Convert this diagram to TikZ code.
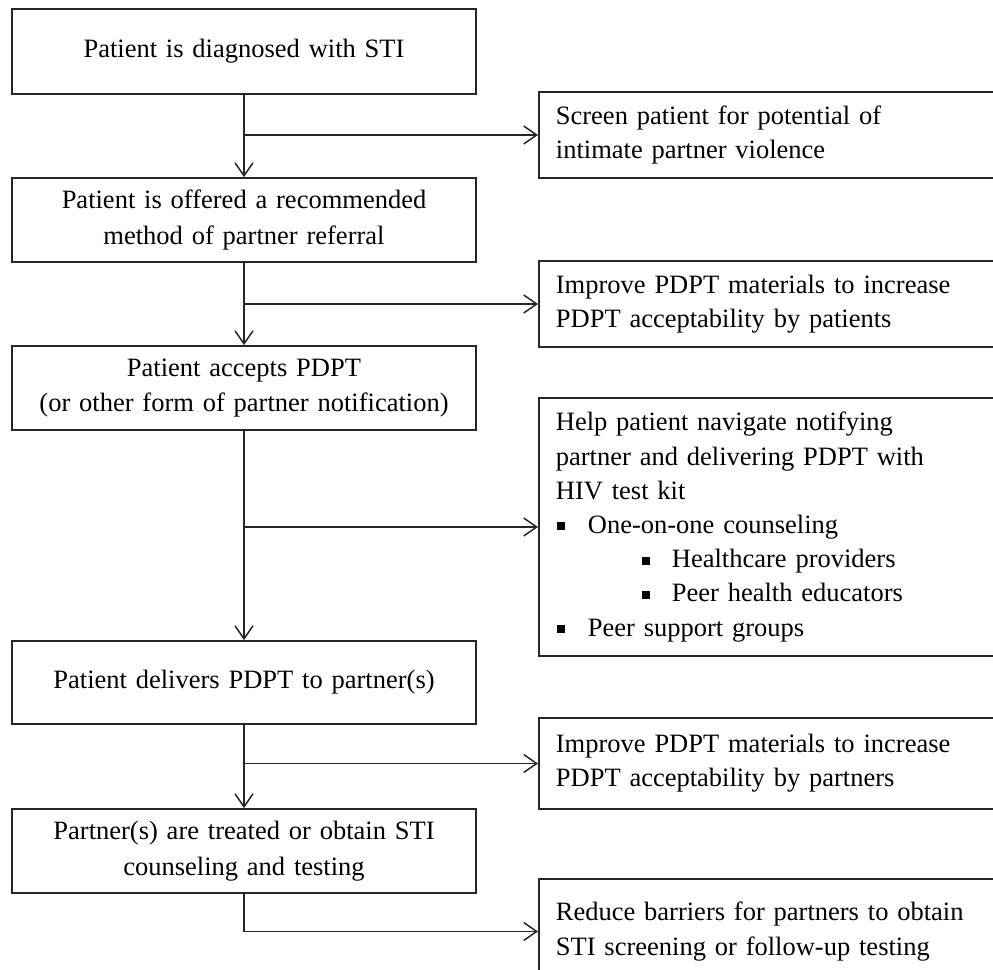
\documentclass[tikz,border=0pt]{standalone}
\usepackage{fontspec}
\setmainfont{Liberation Serif}[WordSpace=1.6]
\usetikzlibrary{arrows.meta}
% small square bullet used in the support list
\newcommand{\sqmark}{\rule[3pt]{8pt}{8pt}}

\begin{document}
\begin{tikzpicture}[x=1pt,y=-1pt,
  ink/.style={draw=black!85},
  lbox/.style={ink, line width=1.8pt, minimum width=464pt, minimum height=84pt,
    text width=440pt, inner xsep=12pt, inner ysep=0pt, align=center,
    font=\fontsize{26.5}{35.5}\selectfont},
  rbox/.style={ink, line width=1.8pt, anchor=west, text width=450pt,
    inner xsep=17pt, inner ysep=0pt, align=left,
    font=\fontsize{26.5}{34.2}\selectfont},
  flow/.style={draw=black!85, line width=1.5pt,
    -{Straight Barb[length=13pt,width=18pt]}}]

\useasboundingbox (0,0) rectangle (993,969);
\clip (0,0) rectangle (993,969);

% main steps
\node[lbox, minimum height=85pt] (b1) at (244,51.5) {Patient is diagnosed with STI};
\node[lbox] (b2) at (244,220) {Patient is offered a recommended\\method of partner referral};
\node[lbox] (b3) at (244,388) {Patient accepts PDPT\\(or other form of partner notification)};
\node[lbox, minimum height=83pt] (b4) at (244,682.5) {Patient delivers PDPT to partner(s)};
\node[lbox] (b5) at (244,851) {Partner(s) are treated or obtain STI\\counseling and testing};

% supporting interventions
\node[rbox, minimum height=86pt] (r1) at (538,135) {Screen patient for potential of\\intimate partner violence};
\node[rbox, minimum height=86pt] (r2) at (538,304) {Improve PDPT materials to increase\\PDPT acceptability by patients};
\node[rbox, minimum height=258pt] (r3) at (538,527) {Help patient navigate notifying\\
partner and delivering PDPT with\\
HIV test kit\\
\hspace*{1pt}\sqmark\hspace{23pt}One-on-one counseling\\
\hspace*{86pt}\sqmark\hspace{22pt}Healthcare providers\\
\hspace*{86pt}\sqmark\hspace{22pt}Peer health educators\\
\hspace*{1pt}\sqmark\hspace{23pt}Peer support groups};
\node[rbox, minimum height=91pt] (r4) at (538,763.5) {Improve PDPT materials to increase\\PDPT acceptability by partners};
\node[rbox, minimum height=105pt] (r5) at (538,931.5) {Reduce barriers for partners to obtain\\STI screening or follow-up testing};

% main flow
\draw[flow] (b1.south) -- (b2.north);
\draw[flow] (b2.south) -- (b3.north);
\draw[flow] (b3.south) -- (b4.north);
\draw[flow] (b4.south) -- (b5.north);

% branches to the interventions
\draw[flow] (b1.south |- r1.west) -- (r1.west);
\draw[flow] (b2.south |- r2.west) -- (r2.west);
\draw[flow] (b3.south |- r3.west) -- (r3.west);
\draw[flow] (b4.south |- r4.west) -- (r4.west);
\draw[flow] (b5.south) |- (r5.west);
\end{tikzpicture}
\end{document}
